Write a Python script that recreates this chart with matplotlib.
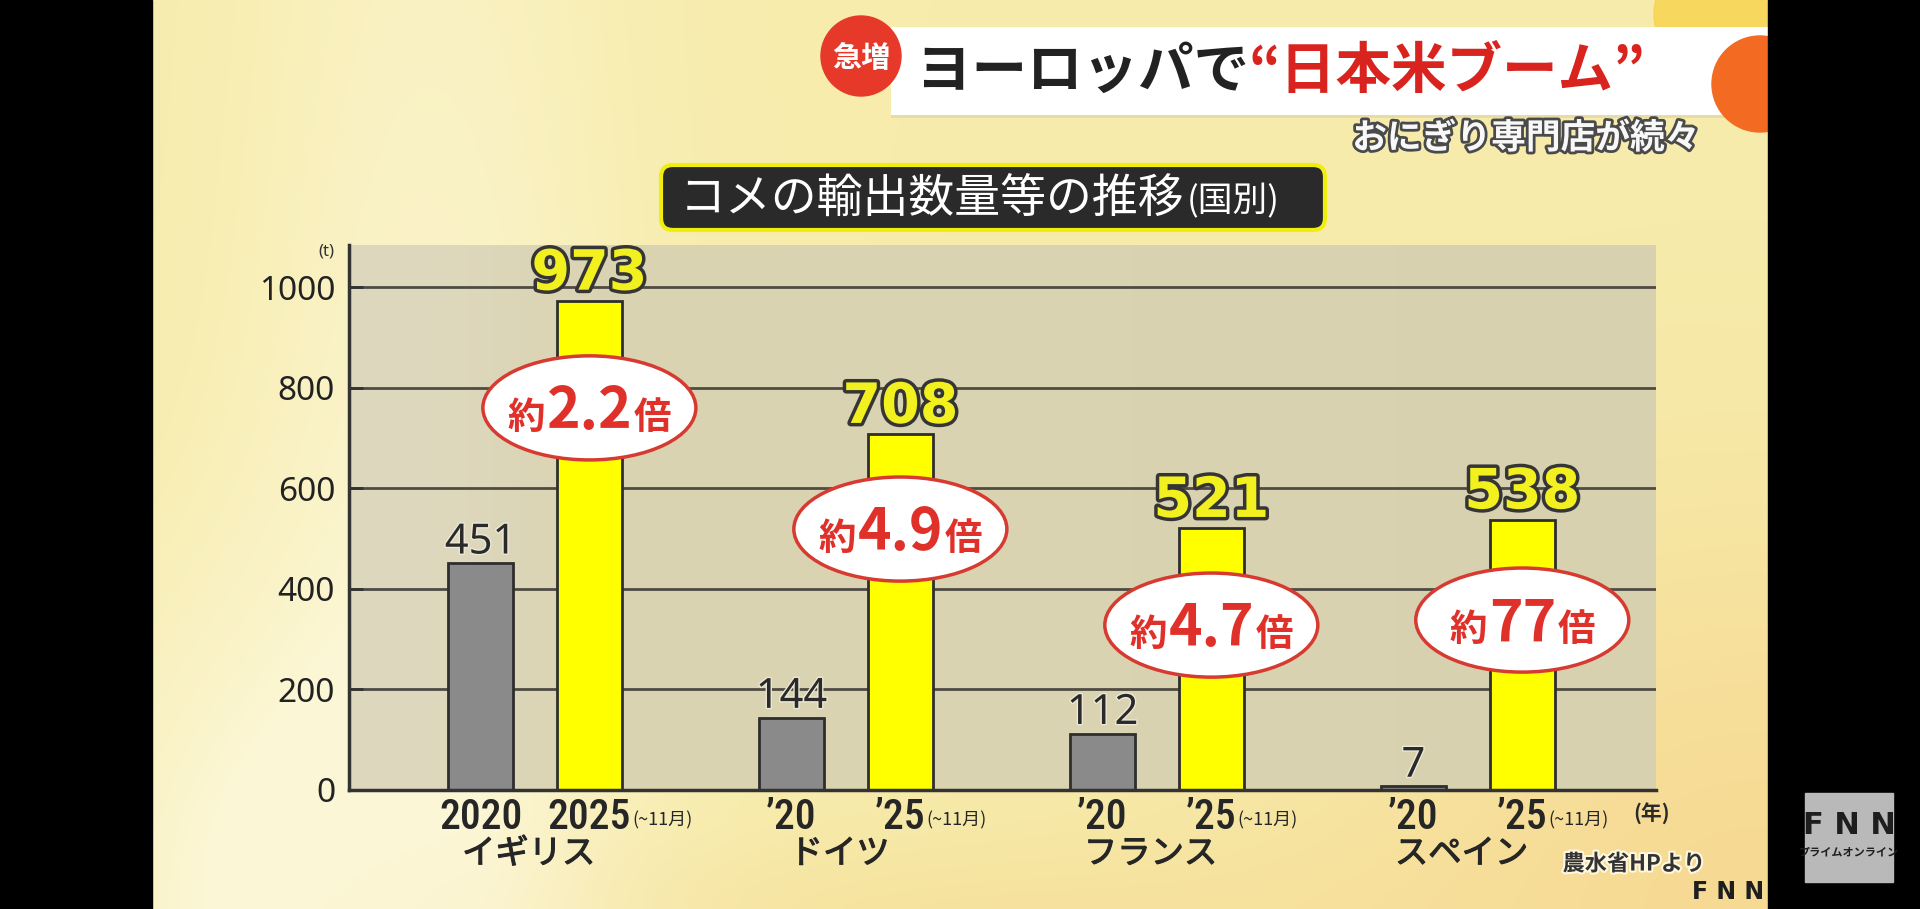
import matplotlib
matplotlib.use('Agg')
import matplotlib.pyplot as plt
import matplotlib.font_manager as fm
import matplotlib.patheffects as pe
from matplotlib.patches import Ellipse, FancyBboxPatch, Circle, Rectangle
import numpy as np

# ---------------- data ----------------
countries = ['イギリス', 'ドイツ', 'フランス', 'スペイン']
values_2020 = [451, 144, 112, 7]
values_2025 = [973, 708, 521, 538]
labels_2020 = ['2020', '’20', '’20', '’20']
labels_2025 = ['2025', '’25', '’25', '’25']
ratio_labels = ['2.2', '4.9', '4.7', '77']
yticks = [0, 200, 400, 600, 800, 1000]

# ---------------- layout ----------------
ellipse_y = [760, 519, 328, 338]
offset = 0.175
bar_w = 0.21

names = {f.name for f in fm.fontManager.ttflist}
JP = 'Noto Sans CJK JP'
SANS = 'Noto Sans' if 'Noto Sans' in names else 'DejaVu Sans'
plt.rcParams['font.family'] = [JP, 'DejaVu Sans']


def find_narrow():
    prefs = ['Liberation Sans Narrow', 'Roboto Condensed', 'Open Sans Condensed',
             'Noto Sans', 'DejaVu Sans', 'Roboto', 'Open Sans', 'Lato', 'Inter']
    cands = []
    for f in fm.fontManager.ttflist:
        st = str(f.stretch).lower()
        if ('narrow' in f.name.lower() or 'condensed' in f.name.lower()
                or st in ('condensed', 'semi-condensed', 'extra-condensed', '75', '87.5', '62.5')
                or 'condensed' in f.fname.lower() or 'narrow' in f.fname.lower()):
            if 'italic' in f.fname.lower() or f.style != 'normal':
                continue
            if 'mono' in f.fname.lower():
                continue
            w = f.weight
            try:
                w = int(w)
            except Exception:
                w = 700 if 'bold' in str(w) else 400
            rank = prefs.index(f.name) if f.name in prefs else len(prefs)
            cands.append((rank, abs(w - 520), f.fname))
    if cands:
        cands.sort()
        return fm.FontProperties(fname=cands[0][2]), True
    return fm.FontProperties(family=JP, weight='bold'), False


narrow_fp, has_narrow = find_narrow()

fig = plt.figure(figsize=(19.2, 9.09), dpi=100)

# ---------------- background ----------------
bg = fig.add_axes([0, 0, 1, 1])
bg.set_xlim(0, 1920)
bg.set_ylim(909, 0)
bg.axis('off')
bg.add_patch(Rectangle((0, 0), 1920, 909, color='black', zorder=0))

H, W = 91, 162
xx, yy = np.meshgrid(np.linspace(0, 1, W), np.linspace(0, 1, H))
base = np.array([247, 236, 172]) / 255
img = np.ones((H, W, 3)) * base
light = np.array([252, 247, 215]) / 255
w1 = np.exp(-((xx - 0.17) / 0.12) ** 2) * (0.5 + 0.5 * yy)
w1 += 0.7 * np.exp(-(((xx - 0.04) / 0.12) ** 2 + ((yy - 1.0) / 0.35) ** 2))
w1 = np.clip(w1, 0, 1)
img = img * (1 - w1[..., None]) + light * w1[..., None]
peach = np.array([246, 214, 142]) / 255
w2 = 0.8 * np.exp(-(((xx - 1.0) / 0.3) ** 2 + ((yy - 1.0) / 0.45) ** 2))
w2 += 0.45 * np.exp(-(((xx - 0.5) / 0.25) ** 2 + ((yy - 1.05) / 0.12) ** 2))
w2 = np.clip(w2, 0, 1)
img = img * (1 - w2[..., None]) + peach * w2[..., None]
bg.imshow(img, extent=(152, 1768, 909, 0), aspect='auto', interpolation='bicubic', zorder=1)

# decorative circles top right
bg.add_patch(Circle((1712, 14), 58, color='#F8D24A', alpha=0.8, zorder=2))
# banner
bg.add_patch(Rectangle((891, 29), 877, 89, facecolor='#D8CFA0', edgecolor='none', alpha=0.5, zorder=3))
bg.add_patch(Rectangle((891, 27), 877, 88, facecolor='white', edgecolor='none', zorder=3))
bg.add_patch(Circle((1760, 84), 48, color='#F36A22', zorder=4))
bg.add_patch(Circle((861, 56), 40, color='#E6392A', zorder=5))
bg.text(861, 58, '急増', ha='center', va='center', color='white', fontsize=21,
        weight='bold', family=JP, zorder=6)
renderer = fig.canvas.get_renderer()
t1 = bg.text(916, 72, 'ヨーロッパで', ha='left', va='center', color='#222222',
             fontsize=40, weight='bold', family=JP, zorder=6)
bb = t1.get_window_extent(renderer)
x_end = bg.transData.inverted().transform((bb.x1, bb.y0))[0]
bg.text(x_end, 72, '“日本米ブーム”', ha='left', va='center', color='#D8231F',
        fontsize=40, weight='bold', family=JP, zorder=6)
bg.text(1526, 138, 'おにぎり専門店が続々', ha='center', va='center', color='#F8F8F8',
        fontsize=25, weight='bold', family=JP, zorder=6,
        path_effects=[pe.withStroke(linewidth=4, foreground='#4A4A4A')])

# chart title box
bg.add_patch(FancyBboxPatch((661, 165), 664, 65, boxstyle='round,pad=0,rounding_size=12',
                            facecolor='#2A2A2A', edgecolor='#F0EE10', linewidth=3, zorder=6))
t2 = bg.text(680, 199, 'コメの輸出数量等の推移', ha='left', va='center', color='white',
             fontsize=33, family=JP, zorder=7)
bb = t2.get_window_extent(renderer)
x_end = bg.transData.inverted().transform((bb.x1, bb.y0))[0]
bg.text(x_end + 2, 202, '(国別)', ha='left', va='center', color='white',
        fontsize=25, family=JP, zorder=7)

# black side bars and logo
bg.add_patch(Rectangle((1768, 0), 152, 909, color='black', zorder=8))
bg.add_patch(Rectangle((0, 0), 152, 909, color='black', zorder=8))
bg.add_patch(Rectangle((1805, 793), 88, 89, color='#B9B9B9', zorder=9))
bg.text(1849, 826, 'F N N', ha='center', va='center', color='#1E1E1E', fontsize=22,
        weight='bold', family='DejaVu Sans', zorder=10)
bg.text(1849, 852, 'プライムオンライン', ha='center', va='center', color='#1E1E1E',
        fontsize=8, weight='bold', family=JP, zorder=10)

# bottom texts
bg.text(1634, 864, '農水省HPより', ha='center', va='center', color='#333333', fontsize=16,
        weight='bold', family=JP, zorder=7,
        path_effects=[pe.withStroke(linewidth=3, foreground='#FFF8E0')])
bg.text(1728, 892, 'F N N', ha='center', va='center', color='#1E1E1E', fontsize=17,
        weight='bold', family='DejaVu Sans', zorder=7)
bg.text(1652, 814, '(年)', ha='center', va='center', color='#2A2A2A', fontsize=15,
        weight='bold', family=JP, zorder=7)
bg.text(326, 252, '(t)', ha='center', va='center', color='#333333', fontsize=12,
        family=SANS, zorder=7)

# ---------------- main chart ----------------
ax = fig.add_axes([349 / 1920, 1 - 790 / 909, (1656 - 349) / 1920, (790 - 245) / 909])
ax.set_zorder(5)
ax.set_facecolor('#DAD3B1')
gx = np.linspace(0, 1, 100)
c_left = np.array([222, 216, 190]) / 255
c_mid = np.array([218, 211, 177]) / 255
c_right = np.array([214, 207, 176]) / 255
wl = np.exp(-((gx - 0.03) / 0.12) ** 2)
wr = np.clip((gx - 0.6) / 0.4, 0, 1)
grad = c_mid * (1 - wl[:, None] - 0.5 * wr[:, None]) + c_left * wl[:, None] + c_right * 0.5 * wr[:, None]
ax.imshow(grad[None, :, :], extent=(0, 1, 0, 1), transform=ax.transAxes, aspect='auto', zorder=0)

n = len(countries)
xg = np.arange(n)
x_gray = xg - offset
x_yel = xg + offset

ax.bar(x_gray, values_2020, width=bar_w, color='#8A8A8A', edgecolor='#2E2E2E', linewidth=2, zorder=3)
ax.bar(x_yel, values_2025, width=bar_w, color='#FFFF00', edgecolor='#2E2E2E', linewidth=2, zorder=3)

ax.set_xlim(-0.598, 3.605)
ax.set_ylim(0, 1084)

for y in yticks[1:]:
    ax.axhline(y, color='#4E4B44', linewidth=2.0, zorder=1)

for s in ['top', 'right']:
    ax.spines[s].set_visible(False)
ax.spines['left'].set_color('#333333')
ax.spines['left'].set_linewidth(2.5)
ax.spines['bottom'].set_color('#333333')
ax.spines['bottom'].set_linewidth(2.5)
ax.spines['left'].set_zorder(4)
ax.spines['bottom'].set_zorder(4)

ax.set_yticks(yticks)
ax.set_yticklabels([str(v) for v in yticks], family=SANS, fontsize=24, color='#222222')
ax.tick_params(axis='y', direction='in', length=10, width=2, color='#333333', pad=10)

xt = []
xl = []
for i in range(n):
    xt += [x_gray[i], x_yel[i]]
    xl += [labels_2020[i], labels_2025[i]]
ax.set_xticks(xt)
ax.set_xticklabels(xl, color='#262626')
tick_size = 30 if has_narrow else 25
for tl in ax.get_xticklabels():
    fp = narrow_fp.copy()
    fp.set_size(tick_size)
    tl.set_fontproperties(fp)
ax.tick_params(axis='x', length=0, pad=5)

for i in range(n):
    ax.text(xg[i] - 0.02, -0.117, countries[i], transform=ax.get_xaxis_transform(), ha='center',
            va='center', fontsize=24, color='#262626', family=JP,
            path_effects=[pe.withStroke(linewidth=0.8, foreground='#262626')])

# value labels
for i in range(n):
    ax.annotate(str(values_2020[i]), (x_gray[i], values_2020[i]), xytext=(0, 7),
                textcoords='offset points', ha='center', va='baseline', fontsize=30,
                color='#2A2A2A', family=SANS, zorder=6,
                path_effects=[pe.withStroke(linewidth=2, foreground='#ECE8D6')])
    ax.annotate(str(values_2025[i]), (x_yel[i], values_2025[i]), xytext=(0, 8),
                textcoords='offset points', ha='center', va='baseline', fontsize=40,
                color='#F2F01E', family='DejaVu Sans', weight='bold', zorder=6,
                path_effects=[pe.withStroke(linewidth=5, foreground='#353535')])

# ratio ellipses
red = '#E0302A'
inv = ax.transData.inverted()
for i in range(n):
    xc, yc = x_yel[i], ellipse_y[i]
    ax.add_patch(Ellipse((xc, yc), width=0.685, height=207, facecolor='white',
                         edgecolor='#D63A30', linewidth=2.5, zorder=5))
    yb = yc - 42
    tm = ax.text(xc, yb, ratio_labels[i], ha='center', va='baseline', fontsize=41,
                 weight='bold', color=red, family=JP, zorder=6)
    bbm = tm.get_window_extent(renderer)
    x0 = inv.transform((bbm.x0, 0))[0]
    x1 = inv.transform((bbm.x1, 0))[0]
    ax.text(x0 - 0.005, yb, '約', ha='right', va='baseline', fontsize=27,
            weight='bold', color=red, family=JP, zorder=6)
    ax.text(x1 + 0.005, yb, '倍', ha='left', va='baseline', fontsize=27,
            weight='bold', color=red, family=JP, zorder=6)

# "(~11月)" after each 2025 tick label
fig.canvas.draw()
tls = ax.get_xticklabels()
for k, tl in enumerate(tls):
    if k % 2 == 1:
        bbt = tl.get_window_extent(renderer)
        fig.text((bbt.x1 + 1) / 1920, (bbt.y0 + bbt.y1) / 2 / 909 - 0.003, '(~11月)',
                 ha='left', va='center', fontsize=13, color='#262626',
                 family=[JP, 'DejaVu Sans'])

fig.savefig('out.png', dpi=100)
